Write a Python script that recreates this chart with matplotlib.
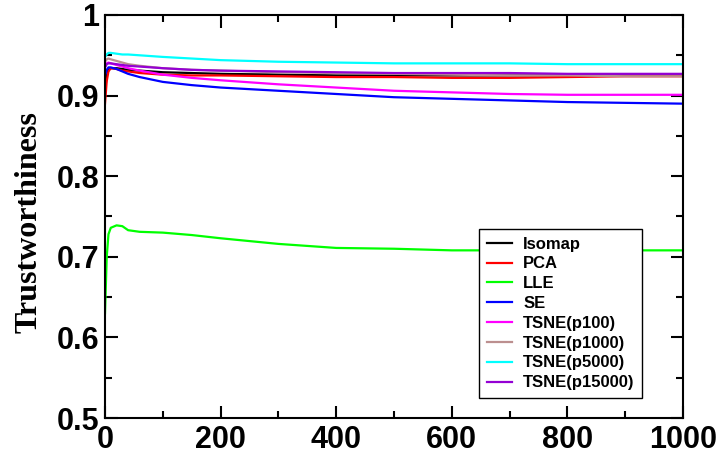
import matplotlib
matplotlib.use("Agg")
import matplotlib.pyplot as plt
from matplotlib.ticker import MultipleLocator

# values
x = [0, 3, 6, 10, 20, 30, 40, 60, 100, 150, 200, 300, 400, 500, 600, 700, 800, 900, 1000]

isomap = [0.905, 0.925, 0.932, 0.934, 0.934, 0.933, 0.932, 0.931, 0.929, 0.928, 0.927, 0.926, 0.925, 0.925, 0.925, 0.925, 0.925, 0.925, 0.925]
pca = [0.890, 0.918, 0.930, 0.934, 0.933, 0.931, 0.930, 0.928, 0.926, 0.925, 0.925, 0.924, 0.923, 0.923, 0.922, 0.922, 0.923, 0.924, 0.924]
lle = [0.630, 0.700, 0.728, 0.736, 0.739, 0.738, 0.733, 0.731, 0.730, 0.727, 0.723, 0.716, 0.711, 0.710, 0.708, 0.708, 0.708, 0.708, 0.708]
se = [0.925, 0.932, 0.935, 0.935, 0.933, 0.930, 0.927, 0.923, 0.917, 0.913, 0.910, 0.906, 0.902, 0.898, 0.896, 0.894, 0.892, 0.891, 0.890]
tsne_p100 = [0.935, 0.940, 0.941, 0.940, 0.938, 0.936, 0.934, 0.931, 0.926, 0.922, 0.919, 0.914, 0.910, 0.906, 0.904, 0.902, 0.901, 0.901, 0.901]
tsne_p1000 = [0.942, 0.945, 0.946, 0.945, 0.943, 0.941, 0.939, 0.937, 0.934, 0.932, 0.931, 0.929, 0.928, 0.927, 0.926, 0.925, 0.925, 0.924, 0.924]
tsne_p5000 = [0.948, 0.951, 0.953, 0.953, 0.952, 0.951, 0.951, 0.950, 0.948, 0.946, 0.944, 0.942, 0.941, 0.940, 0.940, 0.940, 0.939, 0.939, 0.939]
tsne_p15000 = [0.935, 0.939, 0.940, 0.940, 0.939, 0.938, 0.937, 0.936, 0.934, 0.932, 0.931, 0.930, 0.929, 0.928, 0.928, 0.928, 0.927, 0.927, 0.927]

series = [
    ("Isomap", isomap, "black"),
    ("PCA", pca, "red"),
    ("LLE", lle, "#00ff00"),
    ("SE", se, "blue"),
    ("TSNE(p100)", tsne_p100, "magenta"),
    ("TSNE(p1000)", tsne_p1000, "#bc8f8f"),
    ("TSNE(p5000)", tsne_p5000, "cyan"),
    ("TSNE(p15000)", tsne_p15000, "#9400d3"),
]

fig = plt.figure(figsize=(7.22, 4.54), dpi=100)
ax = fig.add_axes([105 / 722, 36 / 454, 578 / 722, 403 / 454])

for name, vals, col in series:
    ax.plot(x, vals, color=col, lw=1.6, label=name)

ax.set_xlim(0, 1000)
ax.set_ylim(0.5, 1.0)
ax.xaxis.set_major_locator(MultipleLocator(200))
ax.xaxis.set_minor_locator(MultipleLocator(100))
ax.yaxis.set_minor_locator(MultipleLocator(0.05))
ax.set_yticks([0.5, 0.6, 0.7, 0.8, 0.9, 1.0])
ax.set_yticklabels(["0.5", "0.6", "0.7", "0.8", "0.9", "1"])

ax.tick_params(which="both", direction="in", top=True, right=True, width=1.5)
ax.tick_params(which="major", length=9)
ax.tick_params(which="minor", length=5)
ax.tick_params(axis="x", pad=5)
ax.tick_params(axis="y", pad=4)
for lab in ax.get_xticklabels() + ax.get_yticklabels():
    lab.set_fontfamily("Liberation Sans")
    lab.set_fontweight("bold")
    lab.set_fontsize(22)
for sp in ax.spines.values():
    sp.set_linewidth(1.5)

ax.set_ylabel("Trustworthiness", fontfamily="Liberation Serif", fontweight="bold", fontsize=23)
ax.yaxis.set_label_coords(-0.107, 0.486)

leg = ax.legend(loc="upper left", bbox_to_anchor=(479 / 722, 1 - 229 / 454), bbox_transform=fig.transFigure,
                prop={"family": "Liberation Sans", "weight": "bold", "size": 12},
                frameon=True, fancybox=False, framealpha=1, edgecolor="black",
                handlelength=1.5, handletextpad=0.7, labelspacing=0.29, borderpad=0.45,
                borderaxespad=0)
leg.get_frame().set_linewidth(1.0)

plt.savefig("out.png", dpi=100)
